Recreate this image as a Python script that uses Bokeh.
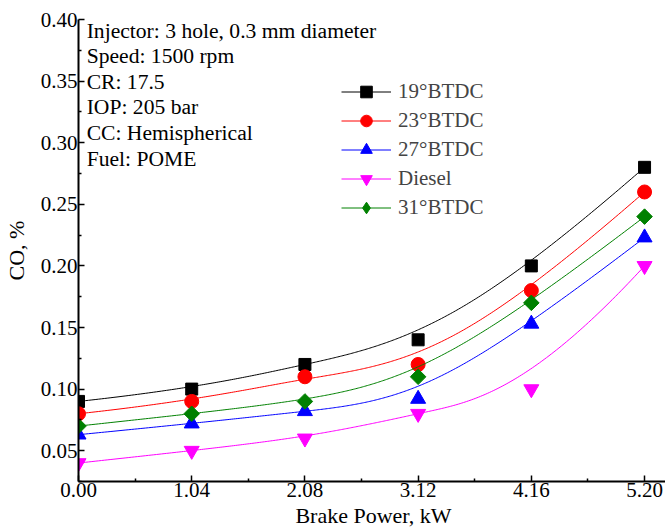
import numpy as np
from bokeh.plotting import figure
from bokeh.models import Legend, LegendItem, Label, FixedTicker, Range1d
from bokeh.embed import file_html
from bokeh.resources import INLINE

# ---- data ----
power = [0.00, 1.04, 2.08, 3.12, 4.16, 5.20]
series_names = ["19°BTDC", "23°BTDC", "27°BTDC", "Diesel", "31°BTDC"]
co_19 = [0.090, 0.100, 0.120, 0.140, 0.200, 0.280]
co_23 = [0.080, 0.090, 0.110, 0.120, 0.180, 0.260]
co_27 = [0.063, 0.072, 0.082, 0.092, 0.153, 0.223]
co_diesel = [0.040, 0.050, 0.060, 0.080, 0.100, 0.200]
co_31 = [0.070, 0.080, 0.090, 0.110, 0.170, 0.240]
x_ticks = [0.00, 1.04, 2.08, 3.12, 4.16, 5.20]
y_ticks = [0.05, 0.10, 0.15, 0.20, 0.25, 0.30, 0.35, 0.40]
notes = ["Injector: 3 hole, 0.3 mm diameter", "Speed: 1500 rpm", "CR: 17.5",
         "IOP: 205 bar", "CC: Hemispherical", "Fuel: POME"]

series = [co_19, co_23, co_27, co_diesel, co_31]
colors = ["black", "#FF0000", "#0000FF", "#FF00FF", "#008000"]
markers = ["square", "circle", "triangle", "inverted_triangle", "square"]
legend_markers = ["square", "circle", "triangle", "inverted_triangle", "diamond"]
angles = [0, 0, 0, 0, np.pi / 4]
sizes = [12, 14, 15, 15, 11]

FONT = "Liberation Serif"


def bspline(cx, cy, deg=3, n=300):
    """Clamped uniform B-spline using the data points as control points."""
    m = len(cx)
    nint = m - deg
    knots = [0] * deg + list(range(nint + 1)) + [nint] * deg
    ctrl = np.column_stack([cx, cy]).astype(float)
    out = []
    for t in np.linspace(0, nint, n):
        k = min(int(np.floor(t)) + deg, m - 1)
        d = [ctrl[j + k - deg].copy() for j in range(deg + 1)]
        for r in range(1, deg + 1):
            for j in range(deg, r - 1, -1):
                den = knots[j + 1 + k - r] - knots[j + k - deg]
                a = 0.0 if den == 0 else (t - knots[j + k - deg]) / den
                d[j] = (1 - a) * d[j - 1] + a * d[j]
        out.append(d[deg])
    out = np.array(out)
    return out[:, 0], out[:, 1]


p = figure(frame_width=590, frame_height=462, output_backend="svg", toolbar_location=None,
           x_range=Range1d(0, 5.42), y_range=Range1d(0.025, 0.40),
           min_border_left=73, min_border_right=0, min_border_top=19, min_border_bottom=40)
p.grid.visible = False
p.outline_line_color = None
p.background_fill_color = "white"

for ax in (p.xaxis[0], p.yaxis[0]):
    ax.axis_line_width = 2
    ax.major_tick_in = 6
    ax.major_tick_out = 0
    ax.minor_tick_in = 3
    ax.minor_tick_out = 0
    ax.major_tick_line_width = 1.5
    ax.minor_tick_line_width = 1.5
    ax.major_label_text_font = FONT
    ax.major_label_text_font_size = "21px"
    ax.major_label_text_color = "black"
    ax.axis_label_text_font = FONT
    ax.axis_label_text_font_size = "22px"
    ax.axis_label_text_font_style = "normal"
    ax.axis_label_text_color = "black"

minor_x = [t + 0.52 for t in x_ticks]
minor_y = [round(t - 0.025, 3) for t in y_ticks]
p.xaxis[0].ticker = FixedTicker(ticks=x_ticks, minor_ticks=minor_x)
p.yaxis[0].ticker = FixedTicker(ticks=y_ticks, minor_ticks=minor_y)
p.xaxis[0].major_label_overrides = {t: f"{t:.2f}" for t in x_ticks}
p.yaxis[0].major_label_overrides = {t: f"{t:.2f}" for t in y_ticks}
p.xaxis[0].axis_label = "Brake Power, kW"
p.yaxis[0].axis_label = "CO, %"
p.xaxis[0].major_label_standoff = 1
p.yaxis[0].major_label_standoff = 1
p.xaxis[0].axis_label_standoff = 3
p.yaxis[0].axis_label_standoff = 9

items = []
for name, ys, c, m, lm, s, a in zip(series_names, series, colors, markers,
                                     legend_markers, sizes, angles):
    bx, by = bspline(power, ys)
    ln = p.line(bx, by, line_color=c, line_width=1)
    sc = p.scatter(power, ys, marker=m, size=s, angle=a, fill_color=c, line_color=c)
    if lm != m:
        # legend-only marker (legend glyphs cannot be rotated); NaN point draws nothing in the plot
        lg = p.scatter([np.nan], [np.nan], marker=lm, size=s, fill_color=c, line_color=c)
        items.append(LegendItem(label=name, renderers=[ln, lg]))
    else:
        items.append(LegendItem(label=name, renderers=[ln, sc]))

legend = Legend(items=items, location=(263, 259), padding=0, margin=0,
                border_line_alpha=0, background_fill_alpha=0,
                glyph_width=50, glyph_height=29, label_height=20, spacing=0,
                label_standoff=7, label_text_font=FONT, label_text_font_size="21px")
p.add_layout(legend, "center")

for i, t in enumerate(notes):
    p.add_layout(Label(x=0.075, y=0.391 - i * 0.0208, text=t, text_font=FONT,
                       text_font_size="21.6px", text_baseline="middle", text_align="left",
                       text_color="black"))

open("out.html", "w").write(file_html(p, INLINE))
